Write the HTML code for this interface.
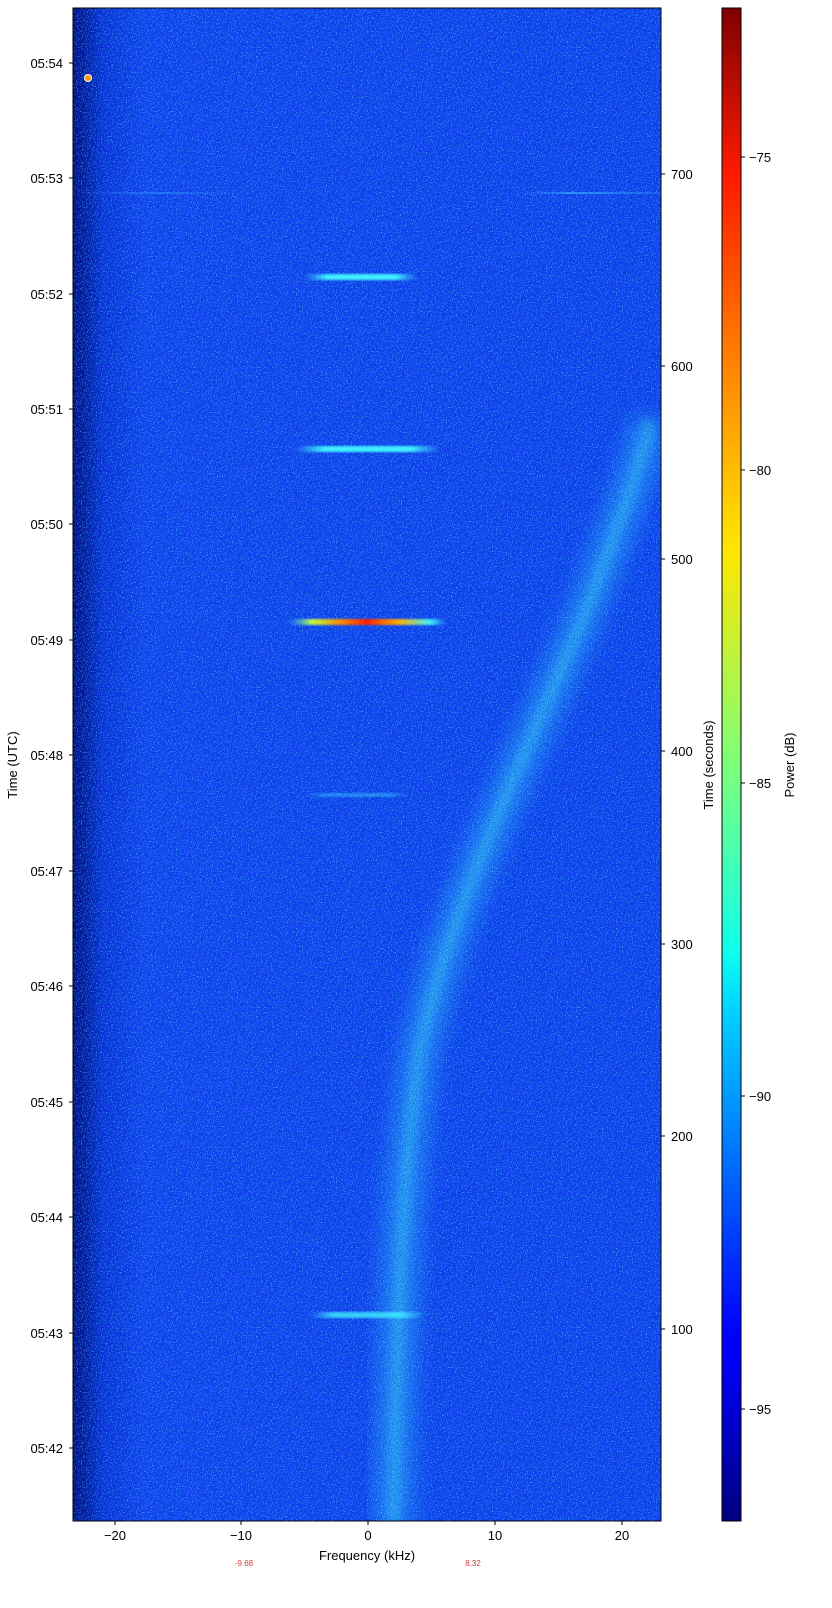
<!DOCTYPE html>
<html><head><meta charset="utf-8"><style>
body{margin:0;background:#fff;width:832px;height:1603px;overflow:hidden}
svg text{font-family:"Liberation Sans",sans-serif;font-size:13px;fill:#000}
</style></head><body>
<svg width="832" height="1603" viewBox="0 0 832 1603" xmlns="http://www.w3.org/2000/svg">
<defs>
<clipPath id="pc"><rect x="73" y="8" width="588" height="1513"/></clipPath>
<filter id="noise" x="0" y="0" width="100%" height="100%">
<feTurbulence type="fractalNoise" baseFrequency="0.8" numOctaves="1" seed="3" result="t"/>
<feColorMatrix in="t" type="matrix" values="0 0 0 0 0.1  0 0 0 0 0.85  0 0 0 0 1  3 0 0 0 -1.55" />
</filter>
<filter id="noise2" x="0" y="0" width="100%" height="100%">
<feTurbulence type="fractalNoise" baseFrequency="0.85" numOctaves="1" seed="11" result="t"/>
<feColorMatrix in="t" type="matrix" values="0 0 0 0 0  0 0 0 0 0.05  0 0 0 0 0.55  3 0 0 0 -1.5" />
</filter>
<filter id="bl8"><feGaussianBlur stdDeviation="10"/></filter>
<filter id="bl3"><feGaussianBlur stdDeviation="4"/></filter>
<filter id="bl1"><feGaussianBlur stdDeviation="1"/></filter>
<linearGradient id="lg" x1="0" x2="1" y1="0" y2="0">
<stop offset="0" stop-color="#000a7a"/><stop offset="0.05" stop-color="#0a30d8"/><stop offset="0.12" stop-color="#1242f0"/><stop offset="1" stop-color="#1040ee"/>
</linearGradient>
<linearGradient id="jet" x1="0" x2="0" y1="1" y2="0">
<stop offset="0" stop-color="#00007f"/><stop offset="0.11" stop-color="#0000ff"/><stop offset="0.125" stop-color="#0000ff"/><stop offset="0.34" stop-color="#00d4ff"/><stop offset="0.375" stop-color="#0dffef"/><stop offset="0.5" stop-color="#7dff7a"/><stop offset="0.64" stop-color="#ffe600"/><stop offset="0.66" stop-color="#ffd900"/><stop offset="0.89" stop-color="#ff1a00"/><stop offset="1" stop-color="#7f0000"/>
</linearGradient>
<linearGradient id="burst" x1="0" x2="1"><stop offset="0" stop-color="#40e0ff" stop-opacity="0"/><stop offset="0.2" stop-color="#40f0ff"/><stop offset="0.8" stop-color="#40f0ff"/><stop offset="1" stop-color="#40e0ff" stop-opacity="0"/></linearGradient>
<linearGradient id="burst2" x1="0" x2="1"><stop offset="0" stop-color="#40e0ff" stop-opacity="0"/><stop offset="0.15" stop-color="#c0ff40"/><stop offset="0.35" stop-color="#ff8000"/><stop offset="0.5" stop-color="#ff2000"/><stop offset="0.7" stop-color="#ffb000"/><stop offset="0.9" stop-color="#40f0ff"/><stop offset="1" stop-color="#40e0ff" stop-opacity="0"/></linearGradient>
<linearGradient id="hl" x1="0" x2="1"><stop offset="0" stop-color="#30a0ff" stop-opacity="0"/><stop offset="0.15" stop-color="#30a0ff" stop-opacity="0.5"/><stop offset="0.3" stop-color="#30a0ff" stop-opacity="0"/><stop offset="0.75" stop-color="#30a0ff" stop-opacity="0"/><stop offset="0.85" stop-color="#40c0ff" stop-opacity="0.6"/><stop offset="1" stop-color="#30a0ff" stop-opacity="0.3"/></linearGradient>
</defs>
<g clip-path="url(#pc)">
<rect x="73" y="8" width="588" height="1513" fill="url(#lg)"/>
<path d="M393 1530 C398 1350,398 1200,420 1050 C450 900,530 750,590 600 C620 520,640 470,650 420" stroke="#30c0ff" stroke-width="36" fill="none" opacity="0.5" filter="url(#bl8)"/>
<path d="M393 1530 C398 1350,398 1200,420 1050 C450 900,530 750,590 600 C620 520,640 470,650 420" stroke="#40e0f0" stroke-width="12" fill="none" opacity="0.3" filter="url(#bl3)"/>
<rect x="73" y="8" width="588" height="1513" filter="url(#noise)" opacity="0.8"/>
<rect x="73" y="8" width="588" height="1513" filter="url(#noise2)" opacity="0.7"/>
<rect x="73" y="192" width="588" height="2" fill="url(#hl)"/>
<rect x="305" y="274" width="113" height="6" fill="url(#burst)" filter="url(#bl1)"/>
<rect x="295" y="446" width="145" height="6" fill="url(#burst)" filter="url(#bl1)"/>
<rect x="288" y="619" width="158" height="6" fill="url(#burst2)" filter="url(#bl1)"/>
<rect x="305" y="793" width="105" height="4" fill="url(#burst)" opacity="0.4" filter="url(#bl1)"/>
<rect x="310" y="1312" width="115" height="6" fill="url(#burst)" opacity="0.8" filter="url(#bl1)"/>
<circle cx="88" cy="78" r="3.5" fill="#ff9a00" stroke="#fff" stroke-width="1"/>
</g>
<rect x="73" y="8" width="588" height="1513" fill="none" stroke="#000" stroke-width="1"/>
<g stroke="#000">
<line x1="115" y1="1521" x2="115" y2="1525"/><line x1="241" y1="1521" x2="241" y2="1525"/><line x1="368" y1="1521" x2="368" y2="1525"/><line x1="495" y1="1521" x2="495" y2="1525"/><line x1="622" y1="1521" x2="622" y2="1525"/>
</g>
<g text-anchor="middle">
<text x="115" y="1540">−20</text><text x="241" y="1540">−10</text><text x="368" y="1540">0</text><text x="495" y="1540">10</text><text x="622" y="1540">20</text>
<text x="367" y="1560">Frequency (kHz)</text>
<text x="244" y="1566" style="font-size:8px;fill:#d04040">-9.68</text>
<text x="473" y="1566" style="font-size:8px;fill:#d04040">8.32</text>
</g>
<g text-anchor="end">
<text x="63" y="1453">05:42</text><text x="63" y="1338">05:43</text><text x="63" y="1222">05:44</text><text x="63" y="1107">05:45</text><text x="63" y="991">05:46</text><text x="63" y="876">05:47</text><text x="63" y="760">05:48</text><text x="63" y="645">05:49</text><text x="63" y="529">05:50</text><text x="63" y="414">05:51</text><text x="63" y="299">05:52</text><text x="63" y="183">05:53</text><text x="63" y="68">05:54</text>
</g>
<g stroke="#000">
<line x1="69" y1="1448" x2="73" y2="1448"/><line x1="69" y1="1333" x2="73" y2="1333"/><line x1="69" y1="1217" x2="73" y2="1217"/><line x1="69" y1="1102" x2="73" y2="1102"/><line x1="69" y1="986" x2="73" y2="986"/><line x1="69" y1="871" x2="73" y2="871"/><line x1="69" y1="755" x2="73" y2="755"/><line x1="69" y1="640" x2="73" y2="640"/><line x1="69" y1="524" x2="73" y2="524"/><line x1="69" y1="409" x2="73" y2="409"/><line x1="69" y1="294" x2="73" y2="294"/><line x1="69" y1="178" x2="73" y2="178"/><line x1="69" y1="63" x2="73" y2="63"/>
<line x1="661" y1="1329" x2="665" y2="1329"/><line x1="661" y1="1136" x2="665" y2="1136"/><line x1="661" y1="944" x2="665" y2="944"/><line x1="661" y1="751" x2="665" y2="751"/><line x1="661" y1="559" x2="665" y2="559"/><line x1="661" y1="366" x2="665" y2="366"/><line x1="661" y1="174" x2="665" y2="174"/>
<line x1="741" y1="1409" x2="745" y2="1409"/><line x1="741" y1="1096" x2="745" y2="1096"/><line x1="741" y1="783" x2="745" y2="783"/><line x1="741" y1="470" x2="745" y2="470"/><line x1="741" y1="157" x2="745" y2="157"/>
</g>
<text x="17" y="765" text-anchor="middle" transform="rotate(-90 17 765)">Time (UTC)</text>
<g>
<text x="671" y="1334">100</text><text x="671" y="1141">200</text><text x="671" y="949">300</text><text x="671" y="756">400</text><text x="671" y="564">500</text><text x="671" y="371">600</text><text x="671" y="179">700</text>
</g>
<text x="713" y="765" text-anchor="middle" transform="rotate(-90 713 765)">Time (seconds)</text>
<rect x="722" y="8" width="19" height="1513" fill="url(#jet)" stroke="#000" stroke-width="1"/>
<g>
<text x="749" y="1414">−95</text><text x="749" y="1101">−90</text><text x="749" y="788">−85</text><text x="749" y="475">−80</text><text x="749" y="162">−75</text>
</g>
<text x="794" y="765" text-anchor="middle" transform="rotate(-90 794 765)">Power (dB)</text>
</svg>
</body></html>
